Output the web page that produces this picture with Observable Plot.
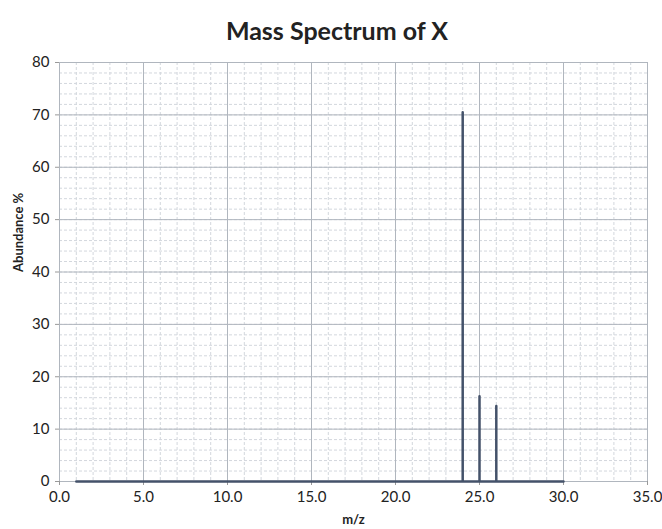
<!DOCTYPE html>
<html>
<head>
<meta charset="utf-8">
<script src="https://cdn.jsdelivr.net/npm/d3@7"></script>
<script src="https://cdn.jsdelivr.net/npm/@observablehq/plot@0.6"></script>
<style>
  body { margin: 0; background: #fff; font-family: Lato, "Open Sans", sans-serif; }
  #title { height: 48px; line-height: 60px; text-align: center; font-size: 25px; font-weight: bold; color: #222; width: 662px; padding-left: 12px; box-sizing: border-box; }
</style>
</head>
<body>
<div id="title">Mass Spectrum of X</div>
<div id="chart"></div>
<script>
const titleText = "Mass Spectrum of X";
const xLabel = "m/z";
const yLabel = "Abundance %";
const peakMz = [24, 25, 26];
const peakAbundance = [70.5, 16.3, 14.4];
const lineStart = 1;
const lineEnd = 30;
const xTicks = [0, 5, 10, 15, 20, 25, 30, 35];
const yTicks = [0, 10, 20, 30, 40, 50, 60, 70, 80];
const xMinor = d3.range(0, 36, 1);
const yMinor = d3.range(0, 81, 2);

// build spectrum trace: baseline with vertical spikes
const trace = [{mz: lineStart, ab: 0}];
peakMz.forEach((m, i) => {
  trace.push({mz: m, ab: 0}, {mz: m, ab: peakAbundance[i]}, {mz: m, ab: 0});
});
trace.push({mz: lineEnd, ab: 0});

const chart = Plot.plot({
  width: 662,
  height: 481,
  marginTop: 14,
  marginLeft: 59,
  marginRight: 15,
  marginBottom: 48,
  style: {fontFamily: "Lato, 'Open Sans', sans-serif", fontSize: "13px", color: "#222"},
  x: {domain: [0, 35]},
  y: {domain: [0, 80]},
  marks: [
    Plot.ruleX(xMinor, {stroke: "#d3d7dd", strokeDasharray: "3,2", strokeWidth: 1}),
    Plot.ruleY(yMinor, {stroke: "#d3d7dd", strokeDasharray: "3,2", strokeWidth: 1}),
    Plot.ruleX(xTicks, {stroke: "#b0b6be", strokeWidth: 1}),
    Plot.ruleY(yTicks, {stroke: "#b0b6be", strokeWidth: 1}),
    Plot.axisX({ticks: xTicks, tickFormat: d => d.toFixed(1), tickSize: 4, tickPadding: 6, fontSize: 15, label: null, stroke: "#999", fill: "#222"}),
    Plot.axisY({ticks: yTicks, tickSize: 4, tickPadding: 6, fontSize: 15, label: null, stroke: "#999", fill: "#222"}),
    Plot.text([xLabel], {frameAnchor: "bottom", dy: 42, fontWeight: "bold", fontSize: 13}),
    Plot.text([yLabel], {frameAnchor: "left", dx: -41, rotate: -90, fontWeight: "bold", fontSize: 13}),
    Plot.line(trace, {x: "mz", y: "ab", stroke: "#44526a", strokeWidth: 2.5, curve: "linear"})
  ]
});
document.getElementById("chart").appendChild(chart);
</script>
</body>
</html>
